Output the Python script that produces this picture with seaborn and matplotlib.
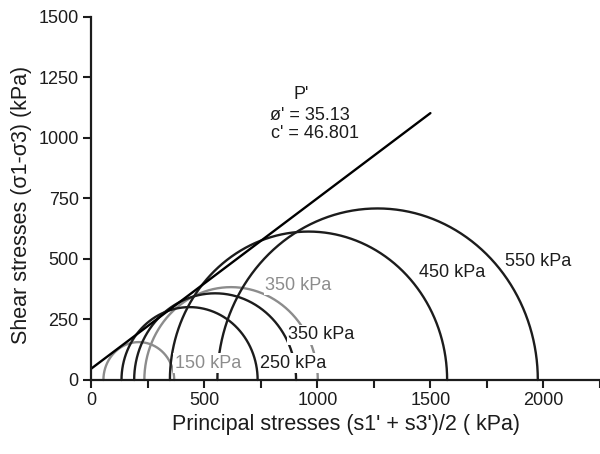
import numpy as np
import pandas as pd
import seaborn as sns
import matplotlib.pyplot as plt

# Mohr circles: minor / major principal stress at failure (kPa)
circle_labels = ["150 kPa", "350 kPa", "250 kPa", "350 kPa", "450 kPa", "550 kPa"]
circle_kind = ["total", "total", "effective", "effective", "effective", "effective"]
sigma3 = [54, 235, 134, 190, 348, 558]
sigma1 = [367, 1002, 736, 906, 1574, 1975]

# Failure envelope P'
phi_deg = 35.13
cohesion = 46.801
envelope_x = [0, 1500]

x_ticks = list(range(0, 2251, 250))
y_ticks = list(range(0, 1501, 250))

sns.set_style("white")
plt.rcParams["font.family"] = ["Liberation Sans", "DejaVu Sans"]

dark = "#1c1c1c"
grey = "#8c8c8c"
kind_colors = {"total": grey, "effective": dark}

rows = []
theta = np.linspace(0, np.pi, 241)
for i, (s3, s1) in enumerate(zip(sigma3, sigma1)):
    c = (s1 + s3) / 2
    r = (s1 - s3) / 2
    for t in theta:
        rows.append({"circle": i, "x": c + r * np.cos(t), "y": r * np.sin(t)})
circles = pd.DataFrame(rows)
palette = {i: kind_colors[k] for i, k in enumerate(circle_kind)}

fig = plt.figure(figsize=(6.0, 4.54), dpi=100)
ax = fig.add_axes([0.152, 0.163, 0.848, 0.800])

sns.lineplot(data=circles, x="x", y="y", hue="circle", palette=palette,
             sort=False, estimator=None, legend=False, linewidth=1.7, ax=ax)
for line in ax.lines:
    line.set_clip_on(False)

env_y = [cohesion + x * np.tan(np.radians(phi_deg)) for x in envelope_x]
sns.lineplot(x=envelope_x, y=env_y, color="black", linewidth=1.7, ax=ax)

# circle labels (confining pressure), placed beside each circle
label_pos = [(515, 70), (916, 391), (894, 70), (1018, 186), (1598, 443), (1978, 490)]
for lab, kind, (lx, ly) in zip(circle_labels, circle_kind, label_pos):
    ax.text(lx, ly, lab, ha="center", va="center", fontsize=13,
            color=kind_colors[kind],
            bbox=dict(facecolor="white", edgecolor="none", pad=0.8))

ax.text(929, 1180, "P'", ha="center", va="center", fontsize=13, color=dark)
ax.text(969, 1092, f"ø' = {phi_deg}", ha="center", va="center", fontsize=13, color=dark)
ax.text(991, 1020, f"c' = {cohesion}", ha="center", va="center", fontsize=13, color=dark)

ax.set_xlim(0, 2250)
ax.set_ylim(0, 1500)
ax.set_xticks(x_ticks)
ax.set_xticklabels([str(t) if t % 500 == 0 else "" for t in x_ticks])
ax.set_yticks(y_ticks)
ax.tick_params(axis="both", direction="out", length=6, width=1.5,
               labelsize=13, colors=dark, pad=3, bottom=True, left=True)
for side in ("left", "bottom"):
    ax.spines[side].set_linewidth(1.6)
    ax.spines[side].set_color(dark)
sns.despine(ax=ax)

ax.set_xlabel("Principal stresses (s1' + s3')/2 ( kPa)", fontsize=15.5, color=dark, labelpad=3)
ax.set_ylabel("Shear stresses (σ1-σ3) (kPa)", fontsize=15.5, color=dark)
ax.yaxis.set_label_coords(-0.116, 0.482)

fig.savefig("out.png", dpi=100)
